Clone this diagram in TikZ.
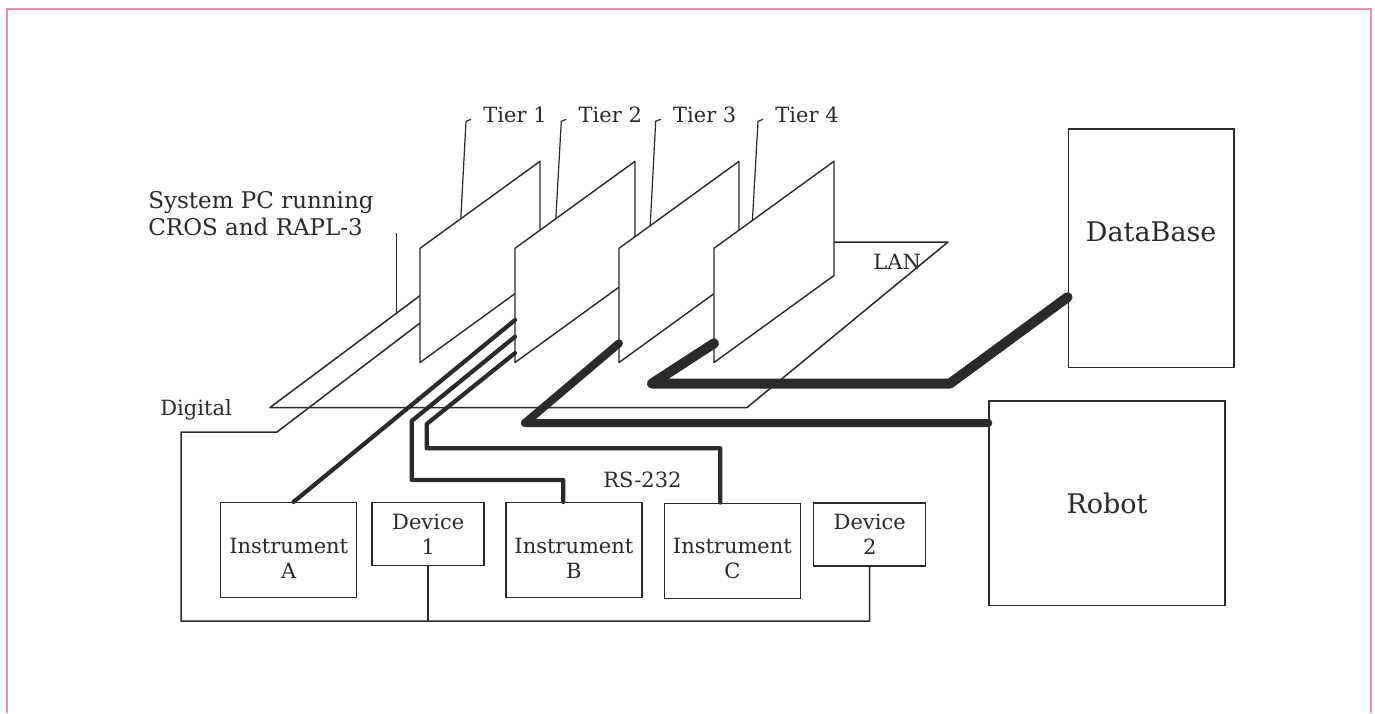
\documentclass[tikz,border=0pt]{standalone}
\usepackage{fontspec}
\setmainfont{DejaVu Serif}
\usepackage{xcolor}
\usetikzlibrary{calc}
\definecolor{ink}{HTML}{2A2A2A}
\definecolor{edgepink}{HTML}{EC8DB3}

\begin{document}
\begin{tikzpicture}[
  x=0.5pt, y=-0.5pt,
  % one unit is one pixel of the scan, y runs downwards
  txt/.style     = {font=\fontsize{10.5}{12.5}\selectfont, text=ink, inner sep=0pt, align=center},
  instbox/.style = {draw=ink, line width=0.75pt, fill=white, minimum width=68pt,
                    minimum height=47.5pt, label={[txt, yshift=-4pt]center:#1}},
  devbox/.style  = {draw=ink, line width=0.75pt, fill=white, txt,
                    minimum width=56pt, minimum height=31.5pt},
  bigbox/.style  = {draw=ink, line width=0.75pt, fill=white, text=ink,
                    font=\fontsize{13.5}{16}\selectfont},
  % the tier cards stand on the PC, so they are filled and hide what is behind
  panel/.style   = {draw=ink, line width=0.7pt, fill=white, line join=round},
  wire/.style    = {draw=ink, line width=0.75pt, line join=round},
  lead/.style    = {draw=ink, line width=0.6pt},
  rs/.style      = {draw=ink, line width=2.1pt, line cap=round, line join=round},
  fat/.style     = {draw=ink, line width=4pt, line cap=round, line join=round},
  lan/.style     = {draw=ink, line width=5pt, line cap=round, line join=round},
]
\useasboundingbox (0,0) rectangle (1375,713);
\fill[white] (0,0) rectangle (1375,713);
\draw[edgepink, line width=1pt] (7,713) -- (7,8.5) -- (1370.5,8.5) -- (1370.5,713);

% --------------------------------------------------------- system pc --
\coordinate (sp-fl) at (270,407.5);
\coordinate (sp-fr) at (747,407.5);
\coordinate (sp-br) at (948,242);
\coordinate (sp-bl) at (492,242);
\draw[wire] (sp-fl) -- (sp-fr) -- (sp-br) -- (sp-bl) -- cycle;

\node[txt, align=left, anchor=north west, font=\fontsize{11.5}{13.4}\selectfont]
  (sys) at (148,191) {System PC running\\CROS and RAPL-3};
\coordinate (spl) at ($(sp-fl)!.57!(sp-bl)$);
\draw[lead] (spl) -- ++(0,-80);

% -------------------------------------------------------------- tiers --
\foreach \lx [count=\i] in {420,515,619,714} {
  \coordinate (p\i-bl) at (\lx,362.5);
  \coordinate (p\i-tl) at (\lx,248.3);
  \coordinate (p\i-tr) at (\lx+120,161.3);
  \coordinate (p\i-br) at (\lx+120,275.5);
  \filldraw[panel] (p\i-bl) -- (p\i-tl) -- (p\i-tr) -- (p\i-br) -- cycle;
}

\foreach \i/\lx in {1/483,2/578.3,3/672.7,4/775}
  \node[txt, anchor=base west] (t\i) at (\lx,122.3) {Tier \i};
\foreach \i/\f in {1/.34,2/.34,3/.26,4/.32}
  \draw[lead] ([shift={(-12,-3)}]t\i.base west) -- ++(-5,2) -- ($(p\i-tl)!\f!(p\i-tr)$);

% ------------------------------------------------------------ devices --
\node[instbox={Instrument\\A}] (ia) at (288.7,550.2) {};
\node[devbox] (d1) at (428.2,534.2) {Device\\1};
\node[instbox={Instrument\\B}] (ib) at (573.9,550.2) {};
\node[instbox={Instrument\\C}] (ic) at (732.4,550.8) {};
\node[devbox] (d2) at (869.7,534.7) {Device\\2};

\node[bigbox, minimum width=118pt, minimum height=102.4pt] (robot) at (1107,503.3) {Robot};
\node[bigbox, minimum width=82.9pt, minimum height=119.3pt,
      label={[text=ink, font=\fontsize{13.5}{16}\selectfont, yshift=8pt]center:DataBase}]
  (db) at (1151.2,248.2) {};

% ------------------------------------------------------------ digital --
\node[txt, anchor=base west] (dig) at (160,415) {Digital};
\coordinate (dg)   at ($(p1-bl)!.346!(p1-tl)$);
\coordinate (dgk)  at (277,432);
\coordinate (busl) at (181,621);
\draw[wire] (dg) -- (dgk) -- (dgk -| busl) -- (busl) -| (d2.south);
\draw[wire] (d1.south) -- (d1.south |- busl);

% ------------------------------------------------------------- rs-232 --
\node[txt, anchor=base west] (rsl) at (603,487) {RS-232};
\coordinate (ra)  at ($(p2-bl)!.372!(p2-tl)$);
\coordinate (rb)  at ($(p2-bl)!.226!(p2-tl)$);
\coordinate (rc)  at ($(p2-bl)!.083!(p2-tl)$);
\coordinate (kb1) at (411.7,421);
\coordinate (kb2) at (563.3,480);
\coordinate (kc1) at (426.7,424);
\coordinate (kc2) at (720.3,448.3);
\draw[rs] (ra) -- ([xshift=2.4pt]ia.north);
\draw[rs] (rb) -- (kb1) |- (kb2) -- (kb2 |- ib.north);
\draw[rs] (rc) -- (kc1) |- (kc2) -- (kc2 |- ic.north);

% ---------------------------------------------------------- robot, lan --
\coordinate (rr)  at ($(p3-bl)!.168!(p3-tl)$);
\coordinate (kr)  at (525,423);
\draw[fat] (rr) -- (kr) -- (kr -| robot.west);

\node[txt, anchor=base west] (lanl) at (873,269) {LAN};
\coordinate (rl)  at ($(p4-bl)!.168!(p4-tl)$);
\coordinate (kl1) at (652,383.5);
\coordinate (kl2) at (950,383.5);
\draw[lan] (rl) -- (kl1) -- (kl2) -- ($(db.south west)!.296!(db.north west)$);

\end{tikzpicture}
\end{document}
